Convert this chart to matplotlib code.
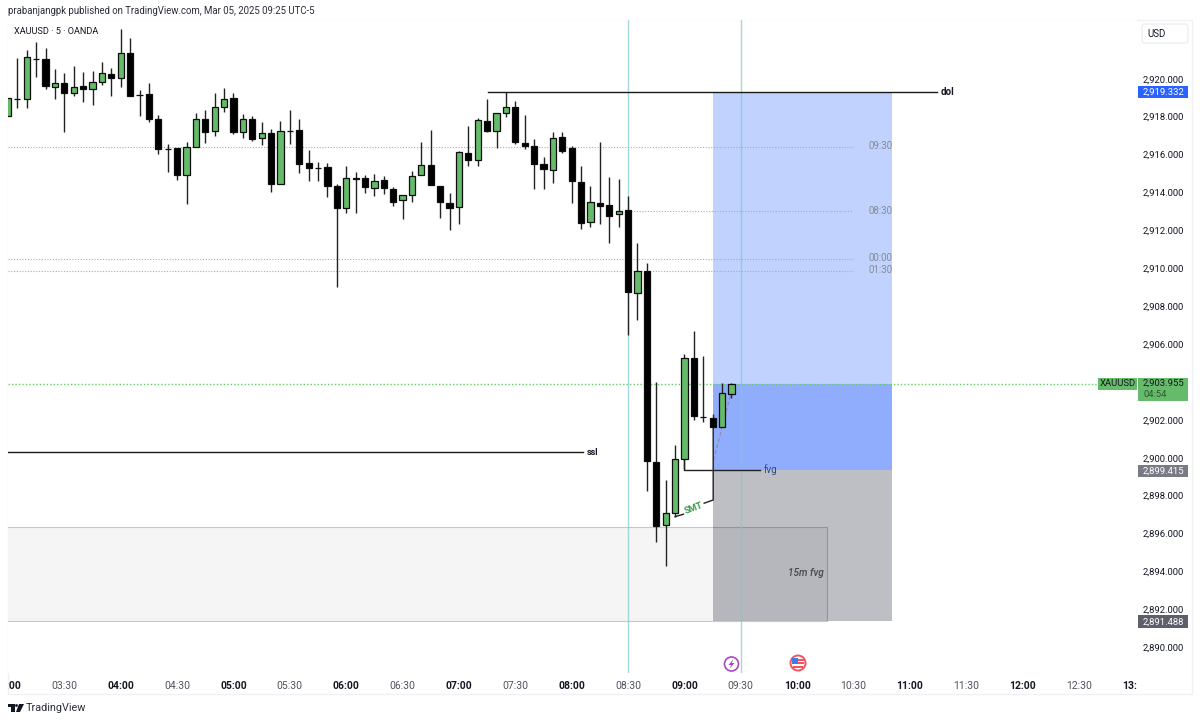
import numpy as np
import matplotlib
matplotlib.use("Agg")
import matplotlib.pyplot as plt
from matplotlib.patches import Rectangle, Polygon, Circle, FancyBboxPatch
from matplotlib.transforms import IdentityTransform, Bbox, blended_transform_factory

plt.rcParams['font.family'] = ['Roboto', 'DejaVu Sans']

# candles, 5 minute bars, index 0 is 04:00
bar_index = np.arange(-12, 66)
opens = [2918.05, 2918.95, 2918.93, 2921.06, 2921.02, 2919.54, 2919.79, 2919.26, 2919.60, 2919.47,
         2919.84, 2920.25, 2920.02, 2921.34, 2919.12, 2919.19, 2917.89, 2916.31, 2916.36, 2914.90,
         2916.41, 2917.86, 2917.26, 2918.49, 2918.98, 2917.17, 2917.89, 2916.85, 2917.12, 2914.46,
         2917.22, 2917.28, 2915.57, 2915.31, 2915.36, 2914.34, 2913.19, 2914.78, 2914.74, 2914.25,
         2914.64, 2914.18, 2913.58, 2913.85, 2914.90, 2915.45, 2914.34, 2913.46, 2913.25, 2916.10,
         2915.71, 2917.79, 2917.26, 2918.21, 2918.49, 2916.62, 2916.45, 2915.52, 2915.20, 2916.94,
         2916.34, 2914.55, 2912.42, 2913.46, 2913.34, 2912.86, 2913.05, 2908.71, 2909.84, 2899.79,
         2896.45, 2897.06, 2899.95, 2905.28, 2902.17, 2902.08, 2901.60, 2903.36]
highs = [2918.96, 2921.11, 2921.51, 2921.95, 2921.60, 2920.49, 2920.28, 2920.67, 2920.34, 2920.39,
         2920.86, 2920.55, 2922.60, 2922.17, 2919.40, 2919.76, 2918.08, 2916.54, 2916.36, 2916.64,
         2918.17, 2918.35, 2919.26, 2919.49, 2919.26, 2918.14, 2918.05, 2917.73, 2917.35, 2917.77,
         2918.35, 2917.86, 2916.24, 2915.60, 2915.53, 2914.43, 2915.41, 2915.08, 2914.92, 2914.95,
         2914.88, 2914.30, 2913.88, 2915.13, 2916.64, 2917.29, 2914.34, 2913.95, 2916.20, 2917.50,
         2917.91, 2918.91, 2918.21, 2919.30, 2918.82, 2918.07, 2916.80, 2915.85, 2917.20, 2917.17,
         2916.47, 2915.41, 2914.34, 2916.64, 2914.80, 2914.69, 2913.81, 2911.35, 2910.29, 2903.98,
         2898.82, 2900.69, 2905.45, 2906.69, 2905.37, 2902.29, 2903.96, 2903.96]
lows = [2918.05, 2918.44, 2918.47, 2920.11, 2919.44, 2918.95, 2917.21, 2919.09, 2918.75, 2918.59,
        2919.65, 2919.10, 2919.58, 2919.09, 2918.03, 2917.70, 2916.03, 2915.09, 2914.65, 2913.39,
        2916.38, 2916.62, 2916.99, 2918.23, 2917.06, 2916.85, 2916.71, 2916.50, 2914.04, 2914.46,
        2916.55, 2915.01, 2914.60, 2914.60, 2913.77, 2909.03, 2912.93, 2912.93, 2913.95, 2913.79,
        2913.92, 2913.30, 2912.58, 2913.51, 2914.90, 2914.41, 2912.65, 2912.02, 2912.33, 2915.41,
        2915.41, 2917.17, 2916.33, 2918.00, 2916.55, 2916.29, 2914.16, 2914.16, 2914.48, 2916.06,
        2913.46, 2912.05, 2912.16, 2912.33, 2911.31, 2912.19, 2906.48, 2907.27, 2898.26, 2895.57,
        2894.28, 2896.89, 2899.39, 2901.99, 2901.90, 2901.60, 2901.60, 2903.13]
closes = [2918.96, 2918.95, 2921.13, 2921.06, 2919.62, 2919.79, 2919.26, 2919.58, 2919.46, 2919.83,
          2920.28, 2920.02, 2921.34, 2919.09, 2919.12, 2917.87, 2916.29, 2916.31, 2914.94, 2916.40,
          2917.87, 2917.21, 2918.49, 2918.93, 2917.17, 2917.87, 2916.82, 2917.12, 2914.43, 2917.22,
          2917.22, 2915.52, 2915.27, 2915.31, 2914.34, 2913.19, 2914.78, 2914.69, 2914.27, 2914.62,
          2914.21, 2913.51, 2913.88, 2914.87, 2915.43, 2914.41, 2913.51, 2913.19, 2916.13, 2915.71,
          2917.84, 2917.26, 2918.21, 2918.49, 2916.68, 2916.43, 2915.52, 2915.23, 2916.85, 2916.20,
          2914.62, 2912.37, 2913.48, 2913.30, 2912.74, 2913.04, 2908.75, 2909.84, 2899.83, 2896.41,
          2897.06, 2899.95, 2905.24, 2902.20, 2902.17, 2901.60, 2903.40, 2903.89]

time_ticks = np.arange(-12, 109, 6)
time_labels = ['03:00', '03:30', '04:00', '04:30', '05:00', '05:30', '06:00', '06:30', '07:00', '07:30',
               '08:00', '08:30', '09:00', '09:30', '10:00', '10:30', '11:00', '11:30', '12:00', '12:30', '13:00']
price_ticks = np.arange(2890, 2921, 2)

last_price = 2903.955
target_price = 2919.332
entry_price = 2899.415
stop_price = 2891.488
# where those levels sit on the picture, about 1px under the printed value
last_level = 2903.90
target_level = 2919.30
entry_level = 2899.36
stop_level = 2891.40
session_lines = [54, 66]
# level, start bar, label
dotted_levels = [2916.41, 2913.04, 2910.47, 2909.87]
dotted_starts = [-12, 54, -12, -12]
dotted_labels = ['09:30', '08:30', '00:00', '01:30']
dotted_label_y = [2916.45, 2913.04, 2910.53, 2909.93]

W, H = 1200, 722
L, R, T, B = 8, 1137, 20, 673

fig = plt.figure(figsize=(W / 100, H / 100), dpi=100, facecolor='white')
ax = fig.add_axes([L / W, 1 - B / H, (R - L) / W, (B - T) / H])
ax.set_xlim(-11.68, 108.17)
ax.set_ylim(2888.64, 2923.10)
for s in ax.spines.values():
    s.set_visible(False)

# long position tool
ax.add_patch(Rectangle((63.06, last_level), 19, target_level - last_level, fc='#c0d2fd', ec='none', zorder=1))
ax.add_patch(Rectangle((63.06, entry_level), 19, last_level - entry_level, fc='#90adfd', ec='none', zorder=1))
ax.add_patch(Rectangle((63.06, stop_level), 19, entry_level - stop_level, fc='#bebfc5', ec='none', zorder=1))
# 15m fvg box
ax.add_patch(Rectangle((-13, stop_level), 88.16, 2896.34 - stop_level, fc=(0, 0, 0, 0.04), ec=(0, 0, 0, 0.2), lw=0.8, zorder=1.5))
ax.text(72.9, 2893.92, '15m fvg', style='italic', fontsize=7.2, fontweight='medium', color='#45484f', ha='center', va='center', zorder=5)

for k in session_lines:
    ax.axvline(k, color='#7fc9cc', alpha=0.7, lw=1, zorder=2)

for lev, st, lab, ly in zip(dotted_levels, dotted_starts, dotted_labels, dotted_label_y):
    ax.plot([st, 77.9], [lev, lev], color='#a8abb3', lw=0.8, ls=(0, (1, 1.5)), zorder=2)
    ax.text(82.15, ly, lab, fontsize=7, color='#868a96', ha='right', va='center', zorder=5)

ax.axhline(last_level, xmax=(1097 - L) / (R - L), color='#66cc66', lw=1, ls=(0, (1, 1.5)), zorder=2)

# hand drawn lines
ax.plot([39.07, 86.9], [target_level, target_level], color='#1a1a1a', lw=1, zorder=3)
ax.text(87.3, target_level, 'dol', fontsize=7, fontweight='bold', color='#131722', va='center', zorder=5)
ax.plot([-13, 49.2], [2900.30, 2900.30], color='#1a1a1a', lw=1, zorder=3)
ax.text(49.6, 2900.30, 'ssl', fontsize=6.5, fontweight='bold', color='#131722', va='center', zorder=5)
ax.plot([60, 60, 68], [2899.95, entry_level, entry_level], color='#222222', lw=1, zorder=3)
ax.text(68.4, entry_level, 'fvg', fontsize=7, color='#2a4a8a', va='center', zorder=5)
ax.plot([63.1, 64.9], [2899.88, 2903.31], color='#8c8f99', lw=0.9, ls=(0, (3, 2)), zorder=3)
ax.plot([59, 59.9], [2896.89, 2897.02], color='#222222', lw=1, zorder=3)
ax.plot([62.1, 63.06, 63.06], [2897.6, 2897.77, 2901.6], color='#222222', lw=1, zorder=3)
ax.text(61.0, 2897.3, 'SMT', fontsize=6.5, fontweight='bold', color='#3a9a4a', rotation=20,
        ha='center', va='center', zorder=5)

# candles
for k, o, h, l, c in zip(bar_index, opens, highs, lows, closes):
    face = '#66bb6a' if c > o else '#000000'
    ax.plot([k, k], [l, h], color='#222222', lw=1, zorder=3.5, solid_capstyle='butt')
    ax.bar(k, abs(c - o), bottom=min(o, c), width=0.66, color=face, edgecolor='#0d0d0d', linewidth=0.9, zorder=4)

# axis labels
ax.yaxis.tick_right()
ax.set_yticks(price_ticks)
ax.set_yticklabels([f'{p:,.3f}' for p in price_ticks], fontsize=6.8, color='#131722', ha='right')
ax.tick_params(axis='y', length=0, pad=33.8)
ax.set_xticks(time_ticks)
ax.set_xticklabels(time_labels, fontsize=7.5)
ax.tick_params(axis='x', length=0, pad=6)
clip = Bbox([[L, 0], [R, H]])
for t, lab in zip(ax.get_xticklabels(), time_labels):
    if lab.endswith(':00'):
        t.set_fontweight('bold')
        t.set_color('#131722')
    else:
        t.set_color('#50535e')
    t.set_clip_box(clip)
    t.set_clip_on(True)

# price scale tags
bt = blended_transform_factory(IdentityTransform(), ax.transData)
tags = [(target_price, target_level, 0.33, 0.33, '#2962ff', 'white'),
        (entry_price, entry_level, 0.27, 0.40, '#787b86', 'white'),
        (stop_price, stop_level, 0.28, 0.40, '#5d606b', 'white')]
for p, lev, up, dn, col, tc in tags:
    ax.add_patch(Rectangle((1138, lev - dn), 50, up + dn, transform=bt, fc=col, ec='none', clip_on=False, zorder=6))
    ax.text(1184, lev - (dn - up) / 2, f'{p:,.3f}', transform=bt, fontsize=6.8, color=tc, ha='right', va='center',
            clip_on=False, zorder=7)
ax.add_patch(Rectangle((1138, last_level - 0.90), 50, 1.22, transform=bt, fc='#66bb6a', ec='none', clip_on=False, zorder=6))
ax.add_patch(Rectangle((1098, last_level - 0.32), 39, 0.64, transform=bt, fc='#66bb6a', ec='none', clip_on=False, zorder=6))
ax.text(1184, last_level + 0.03, f'{last_price:,.3f}', transform=bt, fontsize=6.8, color='#131722', ha='right', va='center', clip_on=False, zorder=7)
ax.text(1144, last_level - 0.55, '04:54', transform=bt, fontsize=6.8, color='#2c5a30', ha='left', va='center', clip_on=False, zorder=7)
ax.text(1117.5, last_level, 'XAUUSD', transform=bt, fontsize=6.8, color='#131722', ha='center', va='center', clip_on=False, zorder=7)

# everything below sits in screen pixels
idt = IdentityTransform()


def fx(x):
    return x / W


def fy(y):
    return 1 - y / H


fig.add_artist(Rectangle((8, H - 694), 1184, 674, transform=idt, fc='none', ec='#eff1f5', lw=1, zorder=0))
fig.add_artist(FancyBboxPatch((1142, H - 43), 46, 19, boxstyle='round,pad=0,rounding_size=3', transform=idt,
                              fc='white', ec='#eceef2', lw=1))
fig.text(fx(1147), fy(34), 'USD', fontsize=7, color='#131722', va='center')
fig.text(fx(8), fy(11), 'prabanjangpk published on TradingView.com, Mar 05, 2025 09:25 UTC-5',
         fontsize=6.95, color='#2a2e39', va='center')
fig.text(fx(14), fy(32), 'XAUUSD \u00b7 5 \u00b7 OANDA', fontsize=6.6, color='#131722', va='center')
fig.text(fx(26), fy(708), 'TradingView', fontsize=7.8, color='#2a2e39', va='center')

# TradingView logo
fig.add_artist(Polygon([(8, H - 704), (15, H - 704), (15, H - 712), (11, H - 712), (11, H - 707), (8, H - 707)],
                       transform=idt, fc='#131722', ec='none'))
fig.add_artist(Circle((16.5, H - 705.5), 1.4, transform=idt, fc='#131722', ec='none'))
fig.add_artist(Polygon([(19, H - 704), (24, H - 704), (20, H - 712), (16, H - 712)], transform=idt, fc='#131722', ec='none'))

# event icons on the time row
fig.add_artist(Circle((731.5, H - 664), 7, transform=idt, fc='white', ec='#ab47bc', lw=1.2))
fig.add_artist(Polygon([(733.5, H - 659), (728.5, H - 665), (731.3, H - 665), (729.5, H - 669),
                        (734.5, H - 663), (731.7, H - 663)], transform=idt, fc='#ab47bc', ec='none'))
fig.add_artist(Circle((798, H - 663), 7.5, transform=idt, fc='white', ec='#f7525f', lw=1.4))
fig.add_artist(Rectangle((792, H - 664), 6, 6, transform=idt, fc='#3d7fe0', ec='none'))
fig.add_artist(Rectangle((798, H - 661), 6, 2, transform=idt, fc='#f7525f', ec='none'))
fig.add_artist(Rectangle((798, H - 664), 6, 1.6, transform=idt, fc='#f7525f', ec='none'))
fig.add_artist(Rectangle((793, H - 668), 10, 2, transform=idt, fc='#f7525f', ec='none'))

fig.savefig('out.png', dpi=100)
